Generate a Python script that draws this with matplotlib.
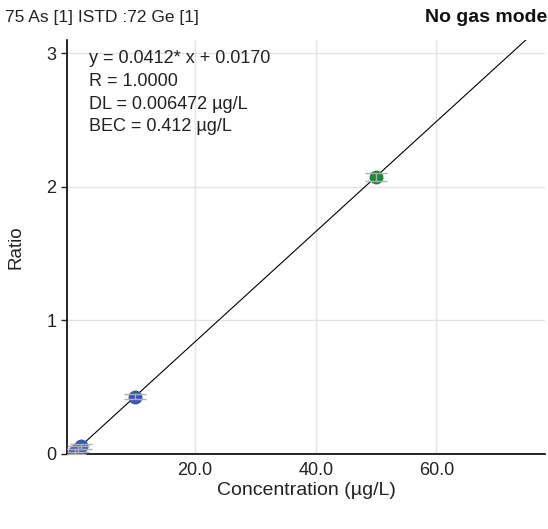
import matplotlib
matplotlib.use("Agg")
import matplotlib.pyplot as plt
import numpy as np

plt.rcParams['font.family'] = ['Liberation Sans', 'DejaVu Sans']

# Data
conc = [0.0, 0.5, 1.0, 10.0, 50.0]
ratio = [0.017, 0.038, 0.058, 0.429, 2.077]
ratio_err = [0.02, 0.02, 0.02, 0.02, 0.03]
point_colors = ['#3a56ae', '#3a56ae', '#3a56ae', '#3a56ae', '#1a8a3c']
slope = 0.0412
intercept = 0.0170
xticks = [20, 40, 60]
xticklabels = ['20.0', '40.0', '60.0']
yticks = [0, 1, 2, 3]
yticklabels = ['0', '1', '2', '3']
title_left = '75 As [1] ISTD :72 Ge [1]'
title_right = 'No gas mode'
info_lines = ['y = 0.0412* x + 0.0170', 'R = 1.0000', 'DL = 0.006472 µg/L', 'BEC = 0.412 µg/L']

fig = plt.figure(figsize=(5.48, 5.29), dpi=100)
ax = fig.add_axes([0.1223, 0.1418, 0.872, 0.7826])

xmin, xmax = -1.25, 78.0
ymin, ymax = 0.0, 3.1
ax.set_xlim(xmin, xmax)
ax.set_ylim(ymin, ymax)

# regression line
xl = np.array([0.0, xmax])
ax.plot(xl, slope * xl + intercept, color='black', lw=0.8, zorder=3)

# points
for c, r, e, col in zip(conc, ratio, ratio_err, point_colors):
    ax.plot([c], [r], 'o', color=col, markersize=10, zorder=4, markeredgewidth=0)
    ax.errorbar([c], [r], yerr=[e], fmt='none', ecolor='#b0b0b0', elinewidth=1,
                capsize=8, capthick=1, zorder=5)

ax.set_xticks(xticks)
ax.set_xticklabels(xticklabels)
ax.set_yticks(yticks)
ax.set_yticklabels(yticklabels)
ax.grid(True, color='#e3e3e3', lw=1)
ax.set_axisbelow(True)
for s in ['top', 'right']:
    ax.spines[s].set_visible(False)
for s in ['left', 'bottom']:
    ax.spines[s].set_color('black')
    ax.spines[s].set_linewidth(1.2)
ax.tick_params(axis='both', labelsize=13, colors='#222222', length=4, width=1)
ax.tick_params(axis='x', length=0, pad=6)

ax.set_xlabel('Concentration (µg/L)', fontsize=14, color='#222222', labelpad=2)
ax.set_ylabel('Ratio', fontsize=13.5, color='#222222', labelpad=16)

fig.text(0.009, 0.966, title_left, fontsize=12.5, color='#222222', va='center', ha='left')
fig.text(0.998, 0.966, title_right, fontsize=14, color='#111111', va='center', ha='right',
         fontweight='bold')

for i, line in enumerate(info_lines):
    ax.text(0.047, 0.955 - i * 0.055, line, transform=ax.transAxes, fontsize=13,
            color='#222222', va='center', ha='left')

fig.savefig('out.png', dpi=100)
